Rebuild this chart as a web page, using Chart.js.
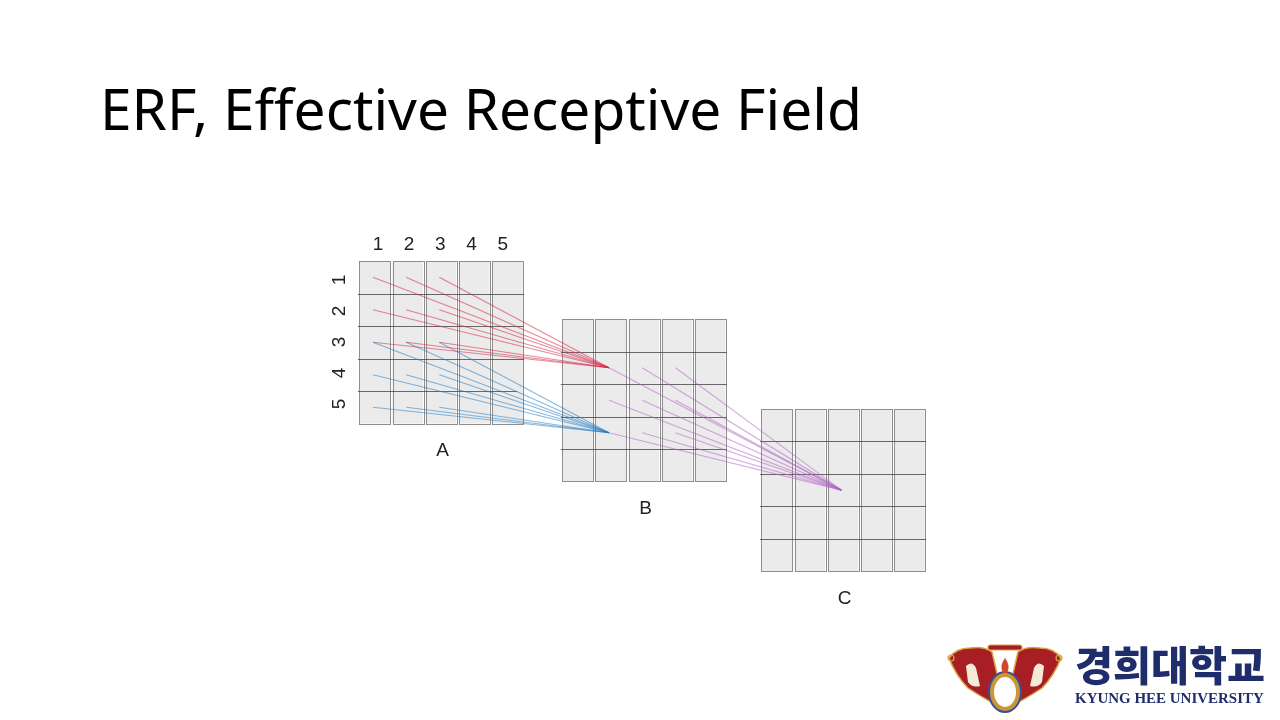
<!DOCTYPE html>
<html>
<head>
<meta charset="utf-8">
<script src="https://cdn.jsdelivr.net/npm/chart.js@4/dist/chart.umd.min.js"></script>
<style>
    html, body { margin: 0; padding: 0; background: #fff; }
    #slide { position: relative; width: 1280px; height: 720px; overflow: hidden; background: #fff; }
    #title { position: absolute; left: 100px; top: 72px; margin: 0; font-family: "Noto Sans", sans-serif; font-weight: 400; font-size: 62px; line-height: 1; color: #000; white-space: nowrap; }
    #chartBox { position: absolute; left: 0; top: 0; width: 1280px; height: 720px; }
    #emblem { position: absolute; left: 946px; top: 642px; width: 118px; height: 78px; }
    #uniKo { position: absolute; left: 1075px; top: 643px; font-family: "Noto Sans CJK KR", sans-serif; font-weight: 900; font-size: 40px; line-height: 1; color: #1f2d6b; white-space: nowrap; }
    #uniEn { position: absolute; left: 1075px; top: 691px; font-family: "Liberation Serif", serif; font-weight: 700; font-size: 15px; line-height: 1; color: #1f2d6b; white-space: nowrap; }
</style>
</head>
<body>
<div id="slide">
    <div id="title">ERF, Effective Receptive Field</div>
    <div id="chartBox"><canvas id="erfChart"></canvas></div>
    <svg id="emblem" viewBox="0 0 118 78">
        <path d="M3,16 Q10,6 24,6 Q38,4 46,10 L52,36 L57,66 Q40,58 22,46 Q10,34 3,16 Z" fill="#a81e25" stroke="#d9a441" stroke-width="1.5"/>
        <path d="M115,16 Q108,6 94,6 Q80,4 72,10 L66,36 L61,66 Q78,58 96,46 Q108,34 115,16 Z" fill="#a81e25" stroke="#d9a441" stroke-width="1.5"/>
        <circle cx="5" cy="16" r="3" fill="none" stroke="#d9a441" stroke-width="1.2"/>
        <circle cx="113" cy="16" r="3" fill="none" stroke="#d9a441" stroke-width="1.2"/>
        <rect x="42" y="3" width="34" height="5" rx="2" fill="#a81e25" stroke="#d9a441" stroke-width="1"/>
        <path d="M20,24 Q26,18 30,26 L34,44 Q26,46 22,40 Z" fill="#f4ead8"/>
        <path d="M98,24 Q92,18 88,26 L84,44 Q92,46 96,40 Z" fill="#f4ead8"/>
        <ellipse cx="59" cy="50" rx="17" ry="21" fill="#3a4f8f"/>
        <ellipse cx="59" cy="50" rx="15" ry="19" fill="#c9963a"/>
        <ellipse cx="59" cy="50" rx="11" ry="15" fill="#ffffff"/>
        <path d="M59,16 Q53,24 57,31 L61,31 Q65,24 59,16 Z" fill="#d2452a"/>
    </svg>
    <div id="uniKo">경희대학교</div>
    <div id="uniEn">KYUNG HEE UNIVERSITY</div>
</div>
<script>
// layers and grid
const layerNames = ['A', 'B', 'C'];
const colLabels = ['1', '2', '3', '4', '5'];
const rowLabels = ['1', '2', '3', '4', '5'];

// receptive fields: source rows / cols (1-based) and target cell [row, col]
const redRows = [1, 2, 3];
const redCols = [1, 2, 3];
const redTarget = [2, 2];
const blueRows = [3, 4, 5];
const blueCols = [1, 2, 3];
const blueTarget = [4, 2];
const purpleRows = [2, 3, 4];
const purpleCols = [2, 3, 4];
const purpleTarget = [3, 3];

// layout (cell units), not data
const layerOffX = [0, 6.11, 12.11];
const layerOffY = [0, 1.785, 4.55];
const XU = 33.2, YU = 32.5;   // px per cell
const X0 = 358, Y0 = 261;     // left/top of grid A

function cellPoint(layer, row, col) {
    return { x: layerOffX[layer] + col - 1 + 0.45, y: layerOffY[layer] + row - 0.5 };
}

function fieldLines(rows, cols, fromLayer, target, toLayer, color) {
    const sets = [];
    const end = cellPoint(toLayer, target[0], target[1]);
    rows.forEach(r => {
        cols.forEach(c => {
            sets.push({
                type: 'line',
                data: [cellPoint(fromLayer, r, c), end],
                borderColor: color,
                borderWidth: 1.2,
                pointRadius: 0,
                fill: false,
            });
        });
    });
    return sets;
}

const datasets = []
    .concat(fieldLines(purpleRows, purpleCols, 1, purpleTarget, 2, 'rgba(176, 96, 196, 0.5)'))
    .concat(fieldLines(blueRows, blueCols, 0, blueTarget, 1, 'rgba(40, 128, 196, 0.55)'))
    .concat(fieldLines(redRows, redCols, 0, redTarget, 1, 'rgba(214, 40, 72, 0.55)'));

// grids + labels drawn through the chart scales
const gridPlugin = {
    id: 'grids',
    beforeDatasetsDraw(chart) {
        const ctx = chart.ctx;
        const xs = chart.scales.x, ys = chart.scales.y;
        const px = v => xs.getPixelForValue(v);
        const py = v => ys.getPixelForValue(v);
        const n = colLabels.length;
        ctx.save();
        layerNames.forEach((name, li) => {
            const ox = layerOffX[li], oy = layerOffY[li];
            // columns as separate boxes
            for (let c = 0; c < n; c++) {
                const l = px(ox + c + 0.04), r = px(ox + c + 0.96);
                const t = py(oy), b = py(oy + n);
                ctx.fillStyle = '#ebebeb';
                ctx.fillRect(l, t, r - l, b - t);
                ctx.strokeStyle = '#8e8e8e';
                ctx.lineWidth = 1;
                ctx.strokeRect(Math.round(l) + 0.5, Math.round(t) + 0.5, Math.round(r - l), Math.round(b - t));
            }
            // row lines
            ctx.strokeStyle = 'rgba(70, 70, 70, 0.8)';
            ctx.lineWidth = 1;
            for (let r = 1; r < n; r++) {
                const y = Math.round(py(oy + r)) + 0.5;
                ctx.beginPath();
                ctx.moveTo(px(ox), y);
                ctx.lineTo(px(ox + n - (r === n - 1 && li === 0 ? 0.2 : 0)), y);
                ctx.stroke();
            }
            // layer name
            ctx.fillStyle = '#222';
            ctx.font = '19px "Liberation Sans", Arial, sans-serif';
            ctx.textAlign = 'center';
            ctx.textBaseline = 'middle';
            ctx.fillText(name, px(ox + 2.55), py(oy + 5.85));
        });
        // column / row numbers on grid A
        ctx.fillStyle = '#222';
        ctx.font = '19px "Liberation Sans", Arial, sans-serif';
        ctx.textAlign = 'center';
        ctx.textBaseline = 'middle';
        colLabels.forEach((lab, i) => {
            ctx.fillText(lab, px(0.6 + i * 0.94), py(-0.5));
        });
        rowLabels.forEach((lab, i) => {
            ctx.save();
            ctx.translate(px(-0.54), py(0.58 + i * 0.955));
            ctx.rotate(-Math.PI / 2);
            ctx.fillText(lab, 0, 0);
            ctx.restore();
        });
        ctx.restore();
    }
};

function fitWidth(el, target) {
    const fs = parseFloat(getComputedStyle(el).fontSize);
    const w = el.getBoundingClientRect().width;
    el.style.fontSize = (fs * target / w) + 'px';
}

window.onload = function () {
    fitWidth(document.getElementById('title'), 762);
    const t = document.getElementById('title');
    const f = parseFloat(t.style.fontSize);
    t.style.top = (130 - 0.888 * f) + 'px';
    fitWidth(document.getElementById('uniKo'), 190);
    fitWidth(document.getElementById('uniEn'), 189);

    new Chart(document.getElementById('erfChart'), {
        type: 'scatter',
        data: { datasets: datasets },
        options: {
            responsive: true,
            maintainAspectRatio: false,
            animation: false,
            layout: { padding: 0 },
            plugins: { legend: { display: false }, tooltip: { enabled: false } },
            scales: {
                x: { type: 'linear', display: false, min: -X0 / XU, max: (1280 - X0) / XU },
                y: { type: 'linear', display: false, reverse: true, min: -Y0 / YU, max: (720 - Y0) / YU },
            },
        },
        plugins: [gridPlugin],
    });
};
</script>
</body>
</html>
